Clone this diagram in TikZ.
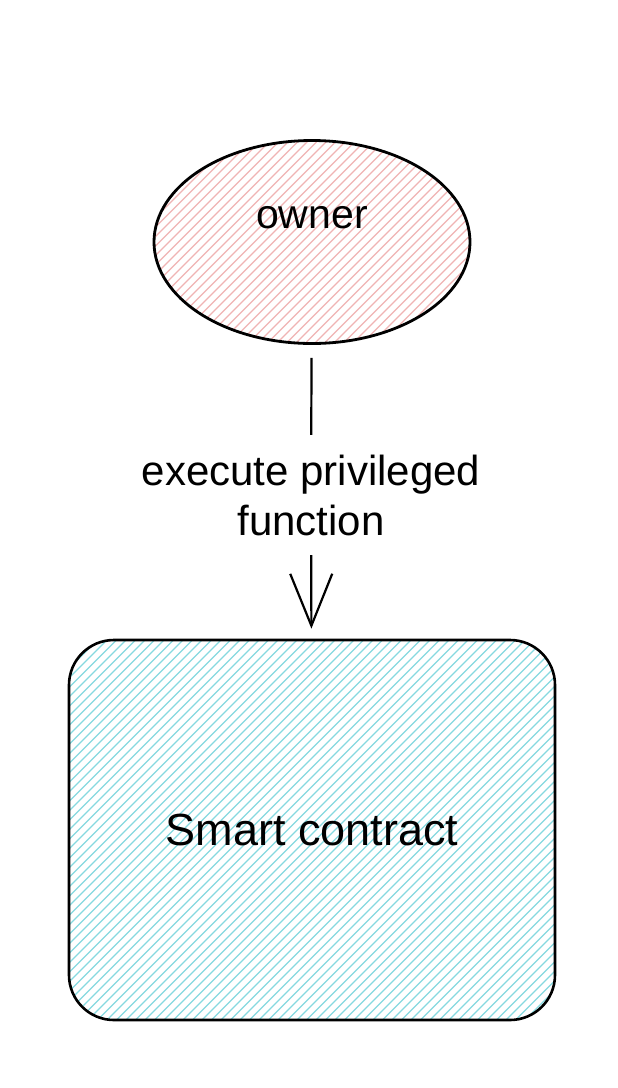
\documentclass[tikz,border=0pt]{standalone}
\usepackage{fontspec}
\setmainfont{Liberation Sans}
\usetikzlibrary{shapes.geometric,arrows.meta,calc}
\definecolor{pinkhatch}{HTML}{F0B4B4}
\definecolor{cyanhatch}{HTML}{86D9E0}
\begin{document}
\begin{tikzpicture}[x=1pt,y=-1pt,
  handtext/.style={inner sep=0pt, align=center},
  ownerstyle/.style={ellipse, draw=black, line width=2.8pt, minimum width=316pt, minimum height=203pt, inner sep=0pt,
    path picture={\foreach \k in {0,...,54} \draw[pinkhatch, line width=1.1pt] ($(path picture bounding box.south west)+(\k*9.5-210,0)$) -- ++(300,-300);}},
  contractstyle/.style={rectangle, rounded corners=45pt, draw=black, line width=2.6pt, minimum width=486pt, minimum height=380pt, inner sep=0pt,
    path picture={\foreach \k in {0,...,92} \draw[cyanhatch, line width=1.3pt] ($(path picture bounding box.south west)+(\k*9.5-380,0)$) -- ++(400,-400);}},
  connector/.style={line width=2.2pt, black}
]
\useasboundingbox (0,0) rectangle (618,1088);
\fill[white] (0,0) rectangle (618,1088);

\node[ownerstyle] (owner) at (312,242) {};
\node[handtext, font=\fontsize{41}{48}\selectfont] (ownertext) at (312,218) {owner};

\node[handtext, font=\fontsize{42}{50}\selectfont, minimum height=120pt] (label) at (311,495) {execute privileged\\function};

\node[contractstyle, font=\fontsize{45}{54}\selectfont] (contract) at (312,830) {Smart contract};

\draw[connector, shorten <=13pt] (owner) -- (label);
\draw[connector, shorten >=10pt, -{Straight Barb[length=52pt,width=42pt]}] (label) -- (contract);
\end{tikzpicture}
\end{document}
